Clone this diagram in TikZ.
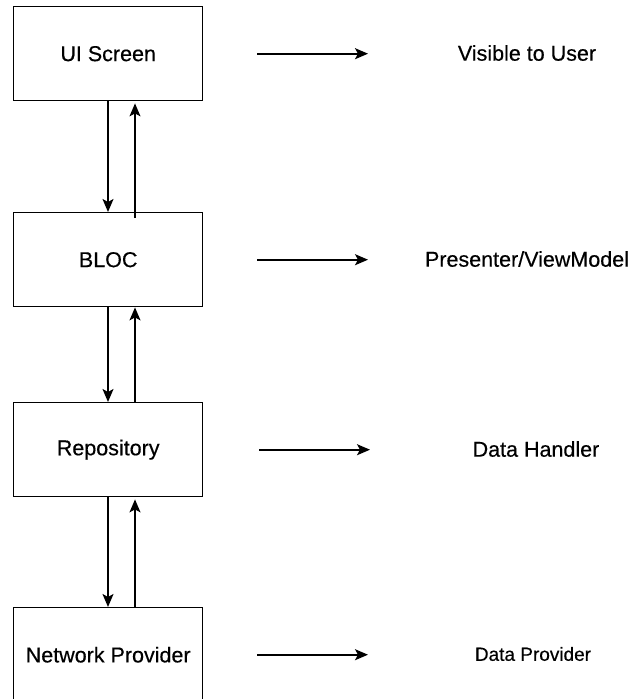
\documentclass[tikz,border=0pt]{standalone}
\usepackage{fontspec}
\setmainfont{Liberation Sans}[FakeBold=0.4]
\usetikzlibrary{arrows.meta}
\begin{document}
\begin{tikzpicture}[x=1pt,y=-1pt,
  box/.style={draw, line width=1.4pt, minimum width=189pt, minimum height=94pt, anchor=north west, inner sep=0pt,
    font=\fontsize{21.5}{26}\selectfont},
  lbl/.style={font=\fontsize{21.5}{26}\selectfont, inner sep=0pt},
  down/.style={line width=1.7pt, -{Stealth[length=13pt,width=11pt,inset=3pt]}},
  up/.style={line width=1.2pt, -{Stealth[length=13pt,width=11pt,inset=3pt]}},
  harrow/.style={line width=1.6pt, -{Stealth[length=13pt,width=11pt,inset=3pt]}}]
\useasboundingbox (0,0) rectangle (638,699);
\clip (0,0) rectangle (638,699);
\node[box] (ui) at (13,6) {UI Screen};
\node[box] (bloc) at (13,212) {BLOC};
\node[box] (repo) at (13,402) {Repository};
\node[box] (net) at (13,607) {Network Provider};

\node[lbl] (vis) at (527,53) {Visible to User};
\node[lbl] (pres) at (527,259) {Presenter/ViewModel};
\node[lbl] (dh) at (536,449) {Data Handler};
\node[lbl, font=\fontsize{19}{23}\selectfont] (dp) at (533,654) {Data Provider};

\draw[down] (ui.south -| 108,0) -- (bloc.north -| 108,0);
\draw[up] ([yshift=-6pt]bloc.north -| 135,0) -- ([yshift=-2pt]ui.south -| 135,0);
\draw[down] (bloc.south -| 108,0) -- (repo.north -| 108,0);
\draw[up] (repo.north -| 135,0) -- (bloc.south -| 135,0);
\draw[down] (repo.south -| 108,0) -- (net.north -| 108,0);
\draw[up] (net.north -| 135,0) -- ([yshift=-2pt]repo.south -| 135,0);

\draw[harrow] (ui.east -| 257,0) -- (ui.east -| 368,0);
\draw[harrow] (bloc.east -| 257,0) -- (bloc.east -| 368,0);
\draw[harrow] (repo.east -| 259,0) -- (repo.east -| 370,0);
\draw[harrow] (net.east -| 257,0) -- (net.east -| 368,0);
\end{tikzpicture}
\end{document}
